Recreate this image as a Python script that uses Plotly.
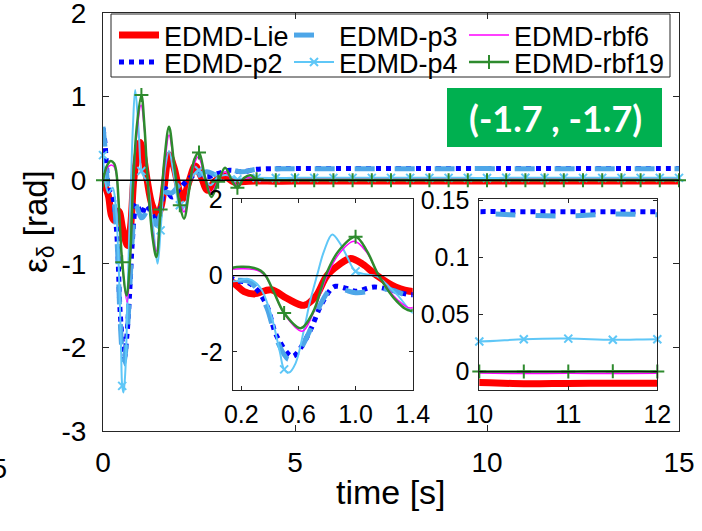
import plotly.graph_objects as go

# ---------------- data ----------------
t_lie = [0, 0.08, 0.144, 0.22, 0.29, 0.41, 0.52, 0.64, 0.72, 0.8, 0.88, 0.965, 1.05, 1.15, 1.28, 1.42,
         1.52, 1.6, 1.72, 1.85, 2.0, 2.08, 2.25, 2.4, 2.55, 2.72, 2.9, 3.15, 3.4, 3.7, 4.0, 4.5, 5, 6, 7,
         8, 9, 10, 10.5, 11, 11.5, 12, 13, 14, 15]
v_lie = [0, -0.1, -0.19, -0.42, -0.48, -0.37, -0.6, -0.78, -0.55, 0.0, 0.27, 0.45, 0.3, 0.0, -0.3, -0.42,
         -0.3, -0.05, 0.3, 0.15, -0.15, -0.22, 0.0, 0.17, 0.05, -0.12, -0.02, 0.05, -0.02, -0.015,
         -0.01, -0.012, -0.01, -0.01, -0.01, -0.01, -0.01, -0.0095, -0.0105, -0.0102, -0.0100,
         -0.0100, -0.01, -0.01, -0.01]

t_p2 = [0, 0.05, 0.1, 0.144, 0.25, 0.31, 0.38, 0.45, 0.557, 0.615, 0.685, 0.755, 0.825, 0.86, 0.93,
        1.0, 1.13, 1.25, 1.4, 1.5, 1.62, 1.8, 2.0, 2.2, 2.45, 2.7, 3.0, 3.3, 3.6, 4.0, 4.5, 5, 6, 7, 8,
        9, 10, 10.5, 11, 11.5, 12, 13, 14, 15]
v_p2 = [0.62, 0.45, 0.12, -0.1, -0.19, -0.37, -0.8, -1.6, -2.12, -1.9, -1.42, -0.8, -0.37, -0.28, -0.33,
        -0.41, -0.3, -0.38, -0.5, -0.35, -0.1, -0.2, -0.1, 0.0, 0.08, 0.04, 0.08, 0.12, 0.1, 0.13, 0.138,
        0.14, 0.14, 0.14, 0.14, 0.14, 0.1402, 0.1402, 0.1401, 0.1402, 0.1401, 0.14, 0.14, 0.14]

t_p3 = [0, 0.05, 0.1, 0.144, 0.25, 0.31, 0.38, 0.45, 0.533, 0.6, 0.685, 0.755, 0.825, 0.86, 0.93, 1.0,
        1.1, 1.13, 1.25, 1.4, 1.5, 1.62, 1.8, 2.0, 2.2, 2.45, 2.7, 3.0, 3.3, 3.6, 4.0, 4.5, 5, 6, 7, 8,
        9, 10, 10.5, 11, 11.5, 12, 13, 14, 15]
v_p3 = [0.64, 0.4, 0.05, -0.1, -0.15, -0.35, -0.85, -1.7, -2.2, -2.0, -1.4, -0.75, -0.35, -0.3, -0.38,
        -0.45, -0.4, -0.32, -0.38, -0.54, -0.4, -0.15, -0.15, -0.05, 0.0, 0.05, 0.1, 0.06, 0.12, 0.1,
        0.13, 0.136, 0.138, 0.138, 0.137, 0.138, 0.138, 0.1385, 0.137, 0.1365, 0.138, 0.1375, 0.138,
        0.138, 0.138]

t_p4 = [0, 0.07, 0.144, 0.25, 0.33, 0.405, 0.47, 0.5, 0.534, 0.58, 0.64, 0.68, 0.73, 0.78, 0.837, 0.895,
        0.94, 1.0, 1.08, 1.15, 1.29, 1.42, 1.5, 1.62, 1.72, 1.85, 2.0, 2.12, 2.3, 2.5, 2.65, 2.8, 3.0,
        3.25, 3.5, 3.75, 4.0, 4.5, 5.0, 5.5, 6.0, 6.5, 7.0, 7.5, 8.0, 8.5, 9.0, 9.5, 10.0, 10.5, 11.0,
        11.5, 12.0, 12.5, 13.0, 13.5, 14.0, 14.5, 15.0]
v_p4 = [0.3, -0.05, -0.15, -0.09, -0.3, -0.98, -2.0, -2.46, -2.54, -2.3, -1.4, -0.7, 0.0, 0.65, 1.08, 0.82,
        0.5, 0.11, 0.03, -0.02, -0.5, -1.0, -0.6, 0.15, 0.35, 0.05, -0.3, -0.32, 0.02, 0.12, 0.02, -0.06,
        0.04, 0.06, 0.01, 0.03, 0.028, 0.027, 0.028, 0.028, 0.028, 0.028, 0.028, 0.028, 0.028, 0.028,
        0.028, 0.028, 0.0265, 0.0285, 0.029, 0.028, 0.0285, 0.028, 0.028, 0.028, 0.028, 0.028, 0.028]

t_rbf6 = [0, 0.1, 0.2, 0.29, 0.335, 0.37, 0.43, 0.5, 0.627, 0.7, 0.79, 0.88, 0.99, 1.08, 1.163, 1.29,
          1.39, 1.5, 1.6, 1.72, 1.85, 2.0, 2.11, 2.25, 2.38, 2.48, 2.65, 2.82, 3.0, 3.18, 3.35, 3.5,
          3.68, 3.85, 4.0, 4.5, 5, 6, 8, 10, 10.5, 11, 11.5, 12, 13, 15]
v_rbf6 = [0, 0.14, 0.18, 0.16, 0.1, -0.02, -0.45, -1.0, -1.46, -1.02, -0.1, 0.55, 0.9, 0.6, 0.0, -0.62,
          -0.85, -0.35, 0.15, 0.54, 0.18, -0.25, -0.38, -0.1, 0.2, 0.28, 0.05, -0.15, 0.0, 0.1, 0.0,
          -0.06, 0.02, 0.03, 0.0, -0.001, -0.0014, -0.0014, -0.0014, -0.0012, -0.0016, -0.0014,
          -0.0015, -0.0014, -0.0014, -0.0014]

t_rbf19 = [0, 0.1, 0.2, 0.29, 0.335, 0.37, 0.43, 0.5, 0.615, 0.7, 0.79, 0.88, 1.0, 1.08, 1.163, 1.29,
           1.39, 1.5, 1.6, 1.72, 1.85, 2.0, 2.11, 2.25, 2.38, 2.5, 2.65, 2.82, 3.0, 3.18, 3.35, 3.5,
           3.68, 3.85, 4.0, 4.5, 5.0, 5.5, 6.0, 6.5, 7.0, 7.5, 8.0, 8.5, 9.0, 9.5, 10.0, 10.5, 11.0,
           11.5, 12.0, 12.5, 13.0, 13.5, 14.0, 14.5, 15.0]
v_rbf19 = [0, 0.17, 0.23, 0.2, 0.13, 0.0, -0.45, -0.98, -1.38, -0.98, 0.0, 0.64, 1.02, 0.64, 0.0, -0.68,
           -0.92, -0.35, 0.25, 0.64, 0.2, -0.3, -0.46, -0.1, 0.25, 0.33, 0.05, -0.2, -0.02, 0.15, 0.0,
           -0.09, 0.03, 0.06, 0.01, 0.0, 0.0, 0.0, 0.0, 0.0, 0.0, 0.0, 0.0, 0.0, 0.0, 0.0, 0.0003,
           0.0002, 0.0003, 0.0004, 0.0003, 0.0003, 0.0003, 0.0003, 0.0003, 0.0003, 0.0003]

names = ["EDMD-Lie", "EDMD-p2", "EDMD-p3", "EDMD-p4", "EDMD-rbf6", "EDMD-rbf19"]
main_xticks = [0, 5, 10, 15]
main_yticks = [-3, -2, -1, 0, 1, 2]
main_ytext = ["-3", "-2", "-1", "0", "1", "2"]
in1_xticks = [0.2, 0.6, 1.0, 1.4]
in1_xtext = ["0.2", "0.6", "1.0", "1.4"]
in1_yticks = [-2, 0, 2]
in1_ytext = ["-2", "0", "2"]
in2_xticks = [10, 11, 12]
in2_yticks = [0, 0.05, 0.1, 0.15]
in2_ytext = ["0", "0.05", "0.1", "0.15"]
x_title = "time [s]"
y_title = "ε<sub>δ</sub> [rad]"
box_text = "(-1.7 , -1.7)"

# ---------------- styling ----------------
C_LIE = "#ff0000"
C_P2 = "#0000ff"
C_P3 = "#4da6e8"
C_P4 = "#5fc7f7"
C_RBF6 = "#ff00ff"
C_RBF19 = "#2e8b2e"
FONT = "Liberation Sans"

W, H = 702, 531
L, R, T, B = 103, 679, 13, 431
PW, PH = R - L, B - T


def px_x(px):
    return (px - L) / PW


def px_y(py):
    return (B - py) / PH


def markers_of(ts, vs):
    xs, ys = [], []
    for t, v in zip(ts, vs):
        if abs(t * 2 - round(t * 2)) < 1e-9:
            xs.append(t)
            ys.append(v)
    return xs, ys


fig = go.Figure()
axsets = [("x", "y"), ("x2", "y2"), ("x3", "y3")]
for k, (xa, ya) in enumerate(axsets):
    first = k == 0
    fig.add_trace(go.Scatter(x=t_lie, y=v_lie, mode="lines", name=names[0], xaxis=xa, yaxis=ya,
                             line=dict(color=C_LIE, width=7, shape="spline"),
                             showlegend=first, legend="legend", hoverinfo="skip"))
    fig.add_trace(go.Scatter(x=t_p2, y=v_p2, mode="lines", name=names[1], xaxis=xa, yaxis=ya,
                             line=dict(color=C_P2, width=5, dash="5px,5px", shape="spline"),
                             showlegend=first, legend="legend2", hoverinfo="skip"))
    fig.add_trace(go.Scatter(x=t_p3, y=v_p3, mode="lines", name=names[2], xaxis=xa, yaxis=ya,
                             line=dict(color=C_P3, width=5, dash="20px,20px", shape="spline"),
                             showlegend=first, legend="legend", hoverinfo="skip"))
    fig.add_trace(go.Scatter(x=t_p4, y=v_p4, mode="lines", name=names[3], xaxis=xa, yaxis=ya,
                             line=dict(color=C_P4, width=2, shape="spline"),
                             showlegend=False, hoverinfo="skip"))
    mx, my = markers_of(t_p4, v_p4)
    fig.add_trace(go.Scatter(x=mx, y=my, mode="markers", name=names[3], xaxis=xa, yaxis=ya,
                             marker=dict(symbol="x-thin", size=8, line=dict(color=C_P4, width=2)),
                             showlegend=False, cliponaxis=False, hoverinfo="skip"))
    fig.add_trace(go.Scatter(x=t_rbf6, y=v_rbf6, mode="lines", name=names[4], xaxis=xa, yaxis=ya,
                             line=dict(color=C_RBF6, width=1.5, shape="spline"),
                             showlegend=first, legend="legend", legendwidth=160, hoverinfo="skip"))
    fig.add_trace(go.Scatter(x=t_rbf19, y=v_rbf19, mode="lines", name=names[5], xaxis=xa, yaxis=ya,
                             line=dict(color=C_RBF19, width=2.5, shape="spline"),
                             showlegend=False, hoverinfo="skip"))
    mx, my = markers_of(t_rbf19, v_rbf19)
    fig.add_trace(go.Scatter(x=mx, y=my, mode="markers", name=names[5], xaxis=xa, yaxis=ya,
                             marker=dict(symbol="cross-thin", size=10, line=dict(color=C_RBF19, width=2)),
                             showlegend=False, cliponaxis=False, hoverinfo="skip"))

# legend proxies for the marker series (line + marker sample)
fig.add_trace(go.Scatter(x=[None], y=[None], mode="lines+markers", name=names[3], legend="legend2",
                         line=dict(color=C_P4, width=2),
                         marker=dict(symbol="x-thin", size=8, line=dict(color=C_P4, width=2))))
fig.add_trace(go.Scatter(x=[None], y=[None], mode="lines+markers", name=names[5], legend="legend2",
                         legendwidth=160, line=dict(color=C_RBF19, width=2.5),
                         marker=dict(symbol="cross-thin", size=10, line=dict(color=C_RBF19, width=2))))

axis_common = dict(showline=True, linecolor="#262626", linewidth=1, mirror="ticks", ticks="inside",
                   tickcolor="#262626", showgrid=False, zeroline=False, fixedrange=True,
                   automargin=False, ticklabeloverflow="allow",
                   tickfont=dict(family=FONT, size=28, color="black"))

in1_dom_x = [px_x(232.7), px_x(412.7)]
in2_dom_x = [px_x(479.3), px_x(657.3)]
in_dom_y = [px_y(390), px_y(199.3)]
small_font = dict(family=FONT, size=25, color="black")
leg_common = dict(orientation="h", x=px_x(114), xanchor="left", yanchor="top",
                  bgcolor="rgba(0,0,0,0)", borderwidth=0, itemwidth=40, entrywidth=120,
                  entrywidthmode="pixels", font=dict(family=FONT, size=27, color="black"),
                  itemclick=False, itemdoubleclick=False)

fig.update_layout(
    width=W, height=H,
    margin=dict(l=L, r=W - R, t=T, b=H - B, pad=0, autoexpand=False),
    paper_bgcolor="white", plot_bgcolor="white",
    showlegend=True,
    xaxis=dict(axis_common, domain=[0, 1], range=[0, 15], tickvals=main_xticks, ticklen=6,
               ticklabelstandoff=6),
    yaxis=dict(axis_common, domain=[0, 1], range=[-3, 2], tickvals=main_yticks, ticktext=main_ytext,
               ticklen=6, ticklabelstandoff=10),
    xaxis2=dict(axis_common, domain=in1_dom_x, anchor="y2", range=[0.14, 1.4], tickvals=in1_xticks,
                ticktext=in1_xtext, ticklen=4, ticklabelstandoff=2, tickfont=small_font),
    yaxis2=dict(axis_common, domain=in_dom_y, anchor="x2", range=[-3, 2], tickvals=in1_yticks,
                ticktext=in1_ytext, ticklen=4, ticklabelstandoff=4, tickfont=small_font),
    xaxis3=dict(axis_common, domain=in2_dom_x, anchor="y3", range=[10, 12], tickvals=in2_xticks,
                ticklen=4, ticklabelstandoff=2, tickfont=small_font),
    yaxis3=dict(axis_common, domain=in_dom_y, anchor="x3", range=[-0.016, 0.151], tickvals=in2_yticks,
                ticktext=in2_ytext, ticklen=4, ticklabelstandoff=4, tickfont=small_font),
    legend=dict(leg_common, y=px_y(11)),
    legend2=dict(leg_common, y=px_y(38)),
)

shapes = [
    # legend frame
    dict(type="rect", xref="paper", yref="paper", x0=px_x(111), x1=px_x(670), y0=px_y(77), y1=px_y(14),
         line=dict(color="#262626", width=1), fillcolor="rgba(0,0,0,0)", layer="above"),
    # green label box
    dict(type="rect", xref="paper", yref="paper", x0=px_x(447), x1=px_x(662), y0=px_y(147), y1=px_y(88),
         line=dict(width=0), fillcolor="#00b050", layer="above"),
    # zero reference lines
    dict(type="line", xref="x", yref="y", x0=0, x1=15, y0=0, y1=0,
         line=dict(color="black", width=1.5), layer="above"),
    dict(type="line", xref="x2", yref="y2", x0=0.14, x1=1.4, y0=0, y1=0,
         line=dict(color="black", width=1.2), layer="above"),
    dict(type="line", xref="x3", yref="y3", x0=10, x1=12, y0=0, y1=0,
         line=dict(color="black", width=1.2), layer="above"),
]
fig.update_layout(shapes=shapes)

# axis titles
fig.add_annotation(text=x_title, xref="paper", yref="paper", x=px_x(391), y=px_y(492),
                   xanchor="center", yanchor="middle", showarrow=False,
                   font=dict(family=FONT, size=34, color="black"))
fig.add_annotation(text=y_title, xref="paper", yref="paper", x=px_x(38), y=px_y(222),
                   xanchor="center", yanchor="middle", textangle=-90, showarrow=False,
                   font=dict(family=FONT, size=33, color="black"))
# label box text
fig.add_annotation(text="<b>" + box_text + "</b>", xref="paper", yref="paper",
                   x=px_x(555), y=px_y(117.5), xanchor="center", yanchor="middle", showarrow=False,
                   font=dict(family="Lato", size=36, color="white"))
# partially visible tick label of the neighbouring panel
fig.add_annotation(text="15", xref="paper", yref="paper", x=px_x(9), y=px_y(468), xanchor="right",
                   yanchor="middle", showarrow=False, font=dict(family=FONT, size=28, color="black"))

fig.write_html("out.html", config=dict(displayModeBar=False),
               post_script="document.body.style.margin='0px';")
